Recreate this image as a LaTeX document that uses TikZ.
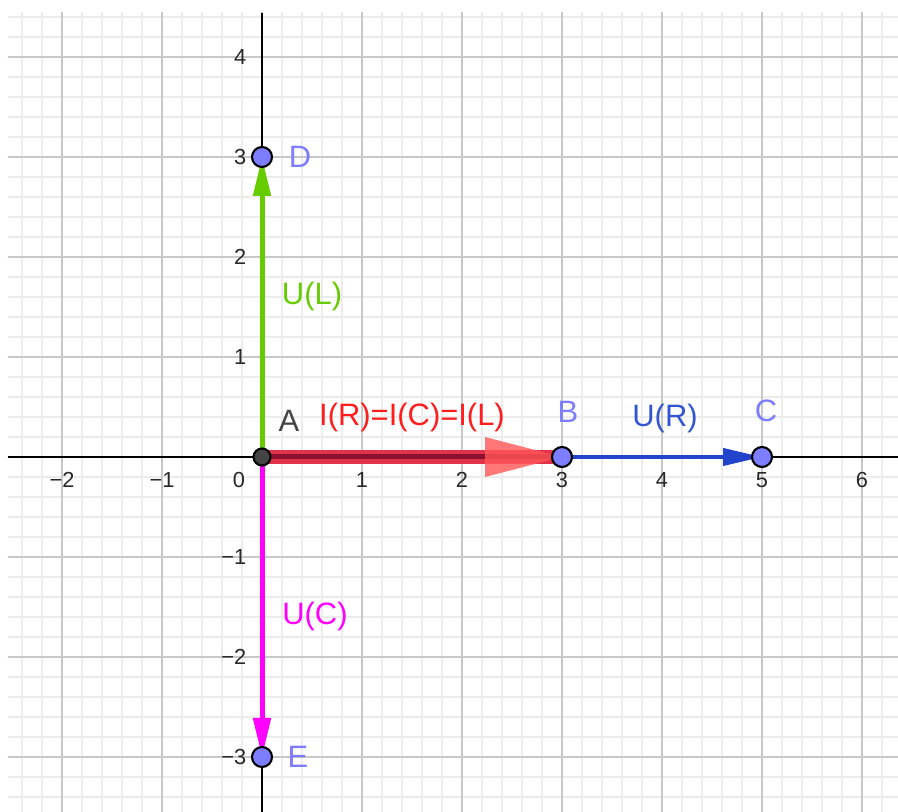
\documentclass[tikz,border=0pt]{standalone}
\usepackage{fontspec}
\setmainfont{Liberation Sans}
\usetikzlibrary{arrows.meta,calc}
\definecolor{minorgrid}{RGB}{236,236,236}
\definecolor{majorgrid}{RGB}{200,200,200}
\definecolor{ptblue}{RGB}{125,125,255}
\definecolor{ptA}{RGB}{68,68,68}
\definecolor{ggreen}{RGB}{102,204,0}
\definecolor{gmag}{RGB}{255,0,255}
\definecolor{gblue}{RGB}{34,68,204}
\definecolor{gbluetext}{RGB}{50,85,210}
\definecolor{gred}{RGB}{255,30,30}
\definecolor{redline}{RGB}{225,50,75}
\definecolor{redcore}{RGB}{140,15,45}
\definecolor{redhead}{RGB}{255,85,85}
\definecolor{ticktext}{RGB}{40,40,40}
\begin{document}
\begin{tikzpicture}[
  ticklbl/.style={font=\fontsize{6.2}{7}\selectfont, text=ticktext, inner sep=0pt},
  ptlbl/.style={font=\fontsize{8.8}{10}\selectfont, inner sep=0pt, anchor=base},
  pt/.style={circle, draw=black, line width=0.6pt, fill=ptblue, minimum size=0.2cm, inner sep=0pt},
  vec/.style={line width=0.05cm, -{Triangle[length=0.39cm,width=0.17cm]}},
  axis/.style={black, line width=0.55pt},
]
\useasboundingbox (-2.62,-3.55) rectangle (6.36,4.57);
\fill[white] (-2.62,-3.55) rectangle (6.36,4.57);
\begin{scope}
  \clip (-2.54,-3.55) rectangle (6.36,4.44);
  \draw[minorgrid, line width=0.3pt] (-3,-4) grid[step=0.2] (7,5);
  \draw[majorgrid, line width=0.45pt] (-3,-4) grid[step=1] (7,5);
\end{scope}
% axes
\coordinate (xl) at (-2.54,0);
\coordinate (xr) at (6.36,0);
\coordinate (yt) at (0,4.44);
\coordinate (yb) at (0,-3.55);
\draw[axis] (xl) -- (xr);
\draw[axis] (yt) -- (yb);
% tick labels
\foreach \v/\t/\n in {-2/−2/m2,-1/−1/m1,1/1/p1,2/2/p2,3/3/p3,4/4/p4,5/5/p5,6/6/p6}
  \node[ticklbl, anchor=north] (tx\n) at (\v,-0.15) {\t};
\node[ticklbl, anchor=north] (tx0) at (-0.23,-0.15) {0};
\foreach \v/\t/\n in {-3/−3/m3,-2/−2/m2,-1/−1/m1,1/1/p1,2/2/p2,3/3/p3,4/4/p4}
  \node[ticklbl, anchor=east] (ty\n) at (-0.15,\v) {\t};
% points
\coordinate (A) at (0,0);
\coordinate (B) at (3,0);
\coordinate (C) at (5,0);
\coordinate (D) at (0,3);
\coordinate (E) at (0,-3);
% vectors
\draw[vec, ggreen] (A) -- (D);
\draw[vec, gmag] (A) -- (E);
\draw[vec, gblue, line width=0.04cm] (B) -- (C);
\draw[redline, line width=0.14cm] (A) -- (B);
\draw[redcore, line width=0.05cm] (A) -- (B);
\fill[redhead, opacity=0.8] ($(B)+(-0.77,0.2)$) -- (B) -- ($(B)+(-0.77,-0.2)$) -- cycle;
% point markers
\node[pt, fill=ptA, minimum size=0.17cm] (pA) at (A) {};
\node[pt] (pB) at (B) {};
\node[pt] (pC) at (C) {};
\node[pt] (pD) at (D) {};
\node[pt] (pE) at (E) {};
% labels
\node[ptlbl, text=ptA] (lA) at (0.27,0.25) {A};
\node[ptlbl, text=ptblue] (lB) at (3.06,0.34) {B};
\node[ptlbl, text=ptblue] (lC) at (5.04,0.35) {C};
\node[ptlbl, text=ptblue] (lD) at (0.38,2.89) {D};
\node[ptlbl, text=ptblue] (lE) at (0.36,-3.11) {E};
\node[ptlbl, text=gred] (lI) at (1.50,0.31) {I(R)=I(C)=I(L)};
\node[ptlbl, text=gbluetext] (lUR) at (4.03,0.30) {U(R)};
\node[ptlbl, text=ggreen] (lUL) at (0.50,1.52) {U(L)};
\node[ptlbl, text=gmag] (lUC) at (0.53,-1.68) {U(C)};
\end{tikzpicture}
\end{document}
